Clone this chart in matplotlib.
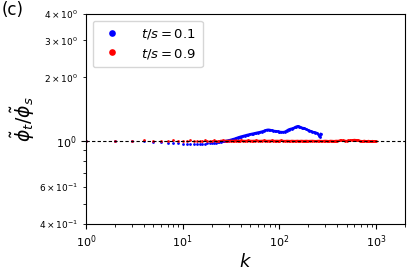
import numpy as np
import matplotlib.pyplot as plt

# ----- data -----
# k positions (integer k, denser at low k, sampled at high k)
k_blue = np.concatenate([np.arange(1, 41), np.arange(42, 61, 2), np.arange(63, 100, 3),
                         np.arange(100, 176, 5),
                         [180, 188, 196, 204, 212, 220, 228, 236, 244, 252, 260, 265, 270]])
ratio_blue = [
    1.000, 1.000, 0.995, 0.990, 0.985, 0.980, 0.976, 0.972, 0.969, 0.967,
    0.966, 0.965, 0.965, 0.966, 0.966, 0.967, 0.968, 0.970, 0.972, 0.974,
    0.976, 0.978, 0.981, 0.984, 0.987, 0.990, 0.993, 0.996, 0.999, 1.002,
    1.006, 1.010, 1.014, 1.018, 1.022, 1.027, 1.032, 1.036, 1.040, 1.044,
    1.050, 1.056, 1.062, 1.067, 1.072, 1.076, 1.080, 1.084, 1.088, 1.092,
    1.097, 1.103, 1.110, 1.118, 1.125, 1.126, 1.122, 1.117, 1.112, 1.110,
    1.108, 1.105, 1.102,
    1.100, 1.098, 1.097, 1.102, 1.115, 1.128, 1.135, 1.140, 1.146, 1.155,
    1.165, 1.170, 1.166, 1.160, 1.152, 1.148,
    1.145, 1.135, 1.125, 1.116, 1.108, 1.100, 1.096, 1.092, 1.087, 1.075,
    1.055, 1.040, 1.075,
]

k_red = np.concatenate([np.arange(1, 41), np.arange(42, 61, 2), np.arange(63, 100, 3),
                        np.arange(100, 200, 5), np.arange(200, 400, 10),
                        np.arange(400, 1001, 20)])
ratio_red = [
    1.000, 1.000, 1.000, 1.001, 1.000, 0.999, 1.000, 1.001, 1.000, 0.999,
    1.000, 1.001, 1.000, 1.000, 0.999, 1.000, 1.001, 1.000, 0.999, 1.000,
    1.001, 1.000, 1.000, 0.999, 1.000, 1.001, 1.000, 0.999, 1.000, 1.000,
    1.001, 1.000, 0.999, 1.000, 1.001, 1.000, 1.000, 0.999, 1.000, 1.001,
    1.000, 0.999, 1.000, 1.001, 1.000, 0.999, 1.000, 1.000, 1.001, 1.000,
    0.999, 1.000, 1.001, 1.000, 0.999, 1.000, 1.000, 1.001, 1.000, 0.999,
    1.000, 1.000, 0.999,
    1.000, 1.001, 0.999, 0.998, 1.000, 0.999, 0.998, 1.000, 0.999, 0.998,
    0.999, 1.000, 0.998, 0.999, 1.000, 0.999, 0.998, 0.999, 1.000, 0.999,
    0.998, 0.999, 1.000, 0.998, 0.997, 0.999, 1.000, 0.998, 0.997, 0.999,
    1.000, 0.999, 0.997, 0.998, 1.000, 0.999, 0.998, 0.997, 0.999, 1.000,
    0.999, 1.001, 1.003, 1.002, 1.000, 0.998, 1.001, 1.004, 1.006, 1.008,
    1.010, 1.008, 1.006, 1.003, 1.000, 0.998, 0.996, 0.998, 1.000, 0.997,
    0.995, 0.997, 0.999, 0.996, 0.994, 0.996, 0.998, 0.995, 0.993, 0.995,
    0.992,
]

labels = [r'$t/s=0.1$', r'$t/s=0.9$']

# ----- figure -----
fig = plt.figure(figsize=(4.15, 2.77), dpi=100)
ax = fig.add_axes([0.207, 0.191, 0.769, 0.758])

ratio_blue = np.array(ratio_blue)
ratio_red = np.array(ratio_red)

ax.plot(k_blue, ratio_blue, 'o', color='blue', markersize=2.0, markeredgewidth=0, label=labels[0])
ax.plot(k_red, ratio_red, 'o', color='red', markersize=2.0, markeredgewidth=0, label=labels[1])
# dense part of each series (points overlap into a thick trace)
mb = k_blue >= 25
mr = k_red >= 25
ax.plot(k_blue[mb], ratio_blue[mb], '-', color='blue', linewidth=1.7)
ax.plot(k_red[mr], ratio_red[mr], '-', color='red', linewidth=1.2)
ax.axhline(1.0, color='black', linestyle='--', linewidth=0.8, dashes=(3, 2), zorder=5)

ax.set_xscale('log')
ax.set_yscale('log')
ax.set_xlim(1, 2000)
ax.set_ylim(0.4, 4)

ax.tick_params(axis='both', which='major', labelsize=8, length=3.5, width=0.8)
ax.tick_params(axis='y', which='minor', labelsize=6.5, length=2, width=0.6)
ax.tick_params(axis='x', which='minor', length=2, width=0.6)

ax.set_xlabel(r'$k$', fontsize=13, labelpad=2)
ax.set_ylabel(r'$\tilde{\phi}_t/\tilde{\phi}_s$', fontsize=13.5, labelpad=2)

leg = ax.legend(loc='upper left', fontsize=9.5, markerscale=2.4, handletextpad=1.2,
                borderpad=0.5, labelspacing=0.4)

fig.text(0.005, 0.995, '(c)', fontsize=12, ha='left', va='top')

fig.savefig('out.png', dpi=100)
